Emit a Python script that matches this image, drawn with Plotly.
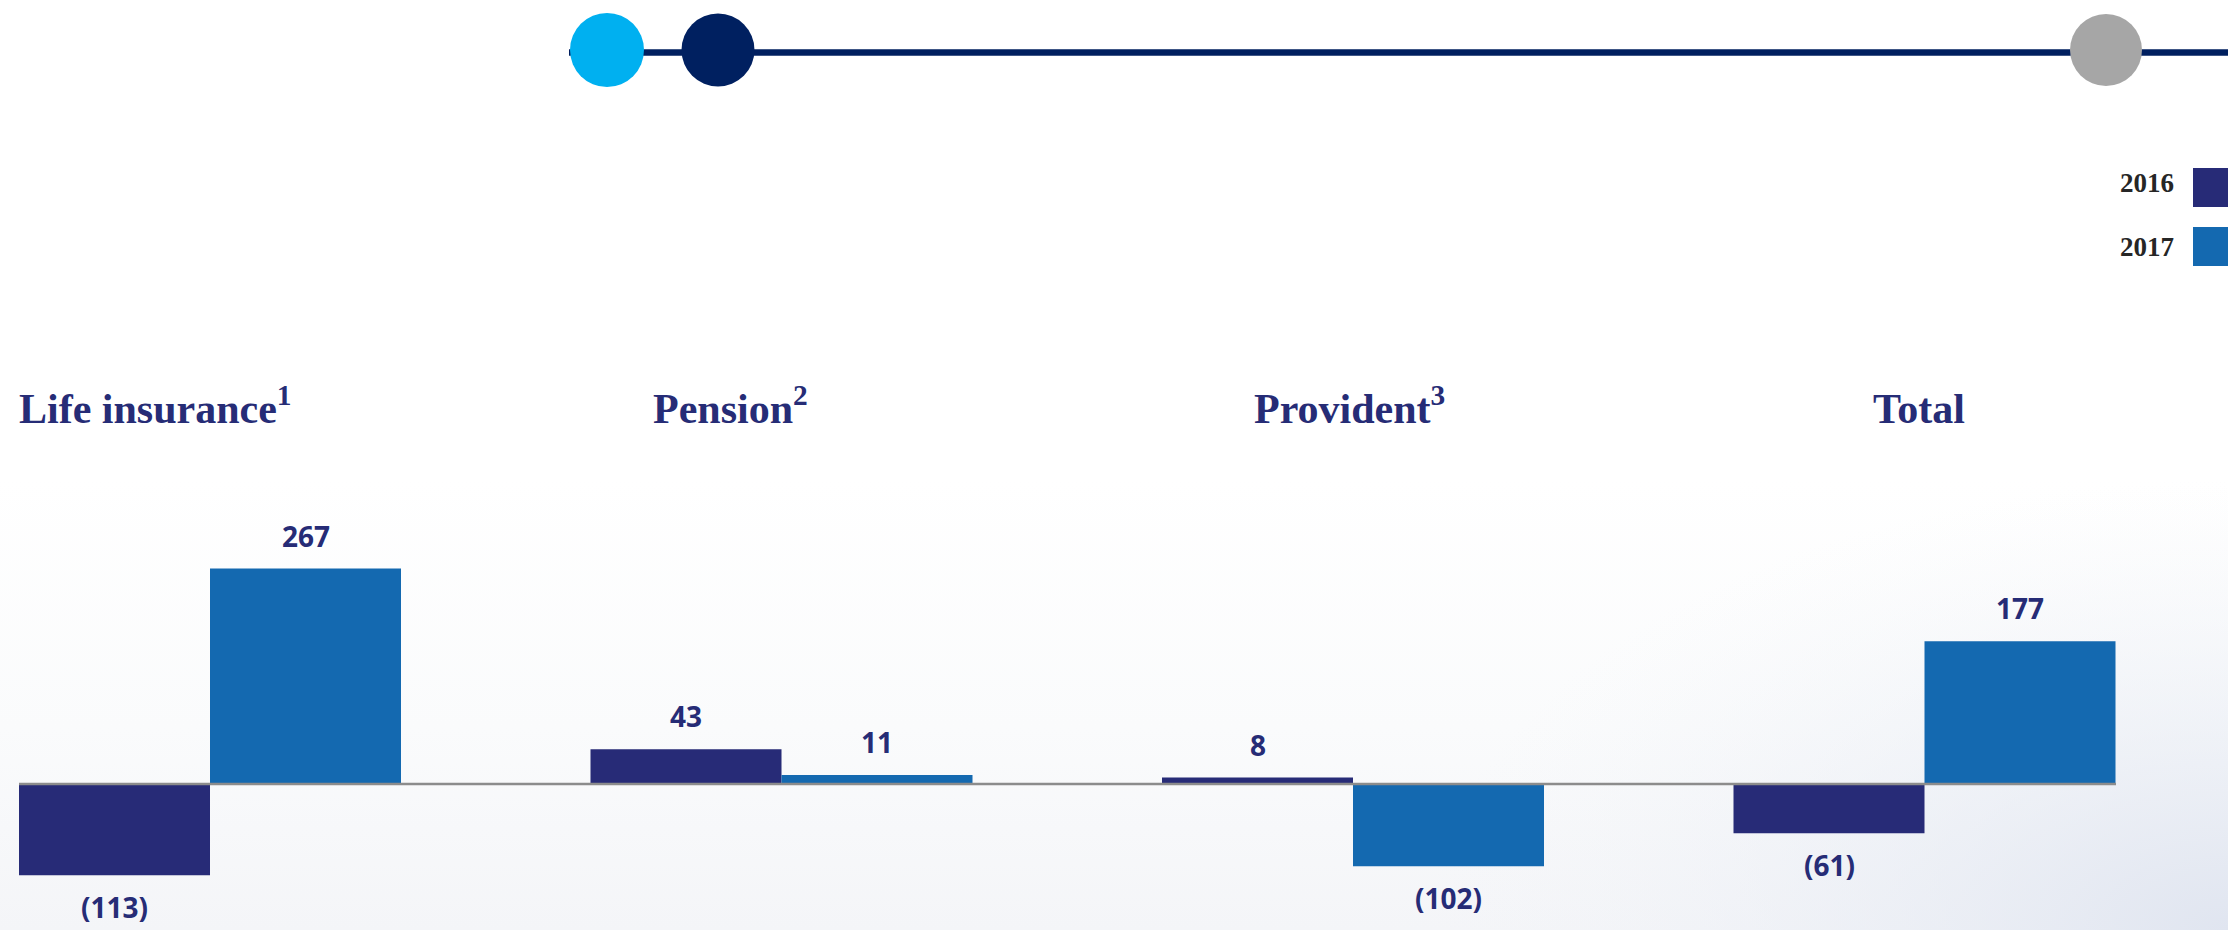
import plotly.graph_objects as go

# ---- data ----
categories = ["Life insurance", "Pension", "Provident", "Total"]
title_labels = ["Life insurance<sup>1</sup>", "Pension<sup>2</sup>", "Provident<sup>3</sup>", "Total"]
series_names = ["2016", "2017"]
values_2016 = [-113, 43, 8, -61]
values_2017 = [267, 11, -102, 177]

# ---- styling ----
W, H = 2228, 930
NAVY = "#272B77"
BLUE = "#1469B0"
TITLE_COLOR = "#262C76"
colors = [NAVY, BLUE]
BARGAP = 0.3316


def px(x):
    return x / W


def py(y):
    return (H - y) / H


fig = go.Figure()

# background haze on the base axes (pixel units, y measured up from the bottom)
fig.add_trace(go.Scatter(
    x=[0, W, W, 0, 0], y=[0, 0, H - 480, H - 480, 0], mode="lines", fill="toself",
    line=dict(width=0), hoverinfo="skip", showlegend=False,
    fillgradient=dict(type="vertical", start=0, stop=H - 480,
                      colorscale=[[0, "#F4F5F8"], [0.45, "#FAFBFC"], [1, "#FFFFFF"]]),
    xaxis="x", yaxis="y",
))
fig.add_trace(go.Scatter(
    x=[W - 800, W + 800, W + 800, W - 800, W - 800], y=[-450, -450, 450, 450, -450],
    mode="lines", fill="toself", line=dict(width=0), hoverinfo="skip", showlegend=False,
    fillgradient=dict(type="radial",
                      colorscale=[[0, "rgba(224,229,240,1)"], [0.5, "rgba(232,236,244,0.5)"],
                                  [1, "rgba(242,244,248,0)"]]),
    xaxis="x", yaxis="y",
))

for name, vals, col in zip(series_names, [values_2016, values_2017], colors):
    fig.add_trace(go.Bar(
        x=categories, y=vals, name=name, marker=dict(color=col, line=dict(width=0)),
        showlegend=False, hoverinfo="x+y+name", xaxis="x2", yaxis="y2",
    ))

shapes = []

# timeline decoration at the top
shapes.append(dict(type="line", xref="paper", yref="paper",
                   x0=px(569), x1=px(W + 5), y0=py(52.5), y1=py(52.5),
                   line=dict(color="#001F5F", width=6.5)))
for cx, cy, r, col in [(607, 50, 37, "#00B0F0"), (718, 50, 36.5, "#002060"), (2106, 50, 36, "#A6A6A6")]:
    shapes.append(dict(type="circle", xref="paper", yref="paper",
                       x0=px(cx - r), x1=px(cx + r), y0=py(cy + r), y1=py(cy - r),
                       fillcolor=col, line=dict(width=0)))

# legend swatches
for (y0, y1), col in zip([(168, 207), (227, 266)], colors):
    shapes.append(dict(type="rect", xref="paper", yref="paper",
                       x0=px(2193), x1=px(W + 10), y0=py(y1), y1=py(y0),
                       fillcolor=col, line=dict(width=0)))

# baseline under the bars, from the first bar's left edge to the last bar's right edge
shapes.append(dict(type="line", xref="paper", yref="y2", x0=px(19), x1=px(2116), y0=0, y1=0,
                   line=dict(color="#8C8C8C", width=2.5)))

annotations = []
# legend text
for name, yc in zip(series_names, [183.5, 247]):
    annotations.append(dict(text=f"<b>{name}</b>", xref="paper", yref="paper",
                            x=px(2176), y=py(yc), xanchor="right", yanchor="middle",
                            showarrow=False,
                            font=dict(family="Liberation Serif, Times New Roman, serif", size=27, color="#262626")))

# group titles
title_left = [17, 651, 1252, 1871]
for t, xl in zip(title_labels, title_left):
    annotations.append(dict(text=f"<b>{t}</b>", xref="paper", yref="paper",
                            x=px(xl), y=py(434), xanchor="left", yanchor="bottom",
                            showarrow=False,
                            font=dict(family="Liberation Serif, Times New Roman, serif", size=42, color=TITLE_COLOR)))

# value labels
half = (1 - BARGAP) / 4
for k, vals in enumerate([values_2016, values_2017]):
    off = -half if k == 0 else half
    for i, v in enumerate(vals):
        txt = f"{v}" if v >= 0 else f"({abs(v)})"
        annotations.append(dict(text=f"<b>{txt}</b>", xref="x2", yref="y2",
                                x=i + off, y=v,
                                xanchor="center", yanchor="bottom" if v >= 0 else "top",
                                yshift=12 if v >= 0 else -10.5,
                                showarrow=False,
                                font=dict(family="Open Sans, sans-serif", size=28, color=TITLE_COLOR)))

# pixel scale: zero at y=784, 0.807 px per unit
zero_px = 784
scale = 0.807
y_top = zero_px / scale
y_bot = -(H - zero_px) / scale
# category centres at 210 px, spacing 571.5 px
x_lo = -210 / 571.5
x_hi = (W - 210) / 571.5

hidden = dict(showticklabels=False, showgrid=False, zeroline=False, showline=False,
              ticks="", fixedrange=True)

fig.update_layout(
    width=W, height=H, autosize=False,
    margin=dict(l=0, r=0, t=0, b=0, pad=0),
    paper_bgcolor="white", plot_bgcolor="white",
    barmode="group", bargap=BARGAP, bargroupgap=0,
    xaxis=dict(range=[0, W], **hidden),
    yaxis=dict(range=[0, H], **hidden),
    xaxis2=dict(range=[x_lo, x_hi], overlaying="x", **hidden),
    yaxis2=dict(range=[y_bot, y_top], overlaying="y", **hidden),
    shapes=shapes, annotations=annotations,
)

fig.write_html("out.html")
